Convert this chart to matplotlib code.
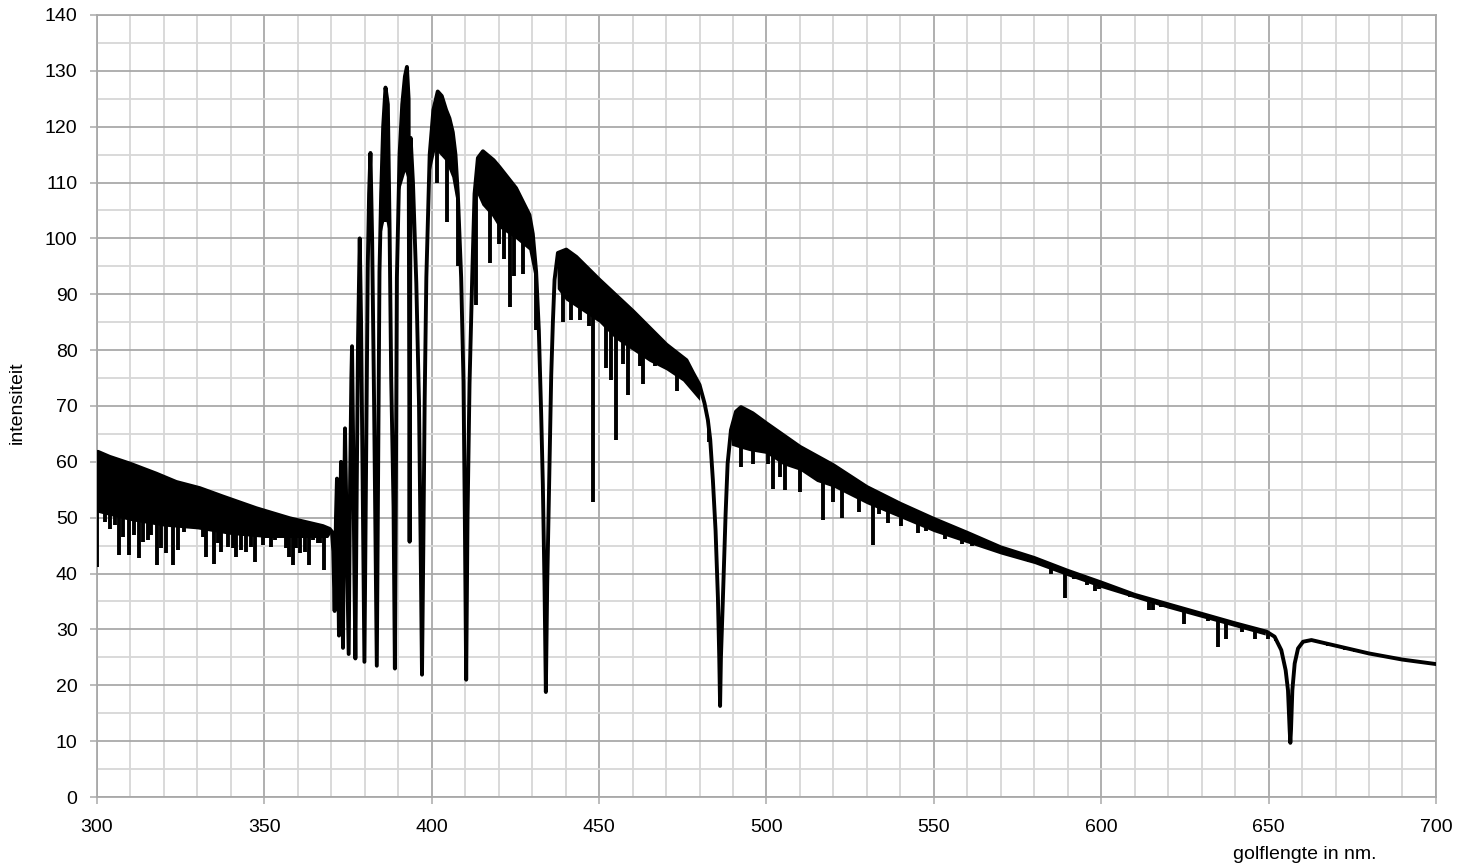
import matplotlib
matplotlib.use("Agg")
import matplotlib.pyplot as plt
from matplotlib.ticker import MultipleLocator

# upper envelope of the spectrum, including the broad Balmer lines
wavelength = [300.0, 300.3, 303.8, 309.8, 317.7, 323.7, 330.7, 337.6, 347.6, 357.6,
              367.5, 369.5, 370.2, 370.6, 371.0, 371.4, 371.7, 372.0, 372.3, 372.6,
              372.9, 373.1, 373.5, 373.8, 374.1, 374.4, 374.8, 375.2, 375.6, 376.0,
              376.2, 376.5, 376.9, 377.2, 377.6, 378.0, 378.5, 378.9, 379.4, 379.9,
              380.4, 380.9, 381.3, 381.7, 382.2, 382.8, 383.3, 383.6, 384.0, 384.4,
              384.9, 385.5, 386.2, 386.9, 387.4, 387.9, 388.6, 389.0, 389.3, 389.6,
              390.4, 391.2, 392.0, 392.6, 393.1, 393.4, 393.7, 394.4, 395.4, 396.2,
              396.7, 397.1, 397.5, 397.9, 398.4, 399.4, 400.5, 401.8, 403.0, 404.3,
              405.3, 406.3, 407.1, 407.8, 408.8, 409.5, 409.9, 410.3, 410.7, 411.3,
              412.1, 412.8, 413.8, 415.3, 416.5, 418.5, 420.2, 425.2, 429.2, 430.2,
              431.2, 432.0, 432.7, 433.2, 433.7, 434.1, 434.5, 435.2, 435.7, 436.2,
              436.7, 437.7, 440.2, 443.2, 450.1, 460.1, 470.1, 476.1, 478.0, 480.0,
              481.5, 482.5, 483.2, 484.0, 484.8, 485.5, 485.9, 486.15, 486.4, 487.0,
              487.8, 488.4, 489.4, 490.9, 492.4, 495.9, 500.0, 510.0, 520.0, 530.0,
              540.0, 550.0, 560.0, 570.0, 580.0, 590.0, 600.0, 610.0, 620.0, 630.0,
              640.0, 649.4, 651.8, 653.8, 655.1, 655.8, 656.3, 656.5, 656.7, 657.1,
              657.8, 658.8, 660.3, 662.8, 669.2, 680.0, 690.0, 700.0]
intensity = [61.0, 61.8, 60.9, 59.7, 57.9, 56.4, 55.3, 53.8, 51.7, 49.9,
             48.5, 48.0, 47.5, 44.0, 33.3, 50.0, 57.0, 45.0, 28.9, 45.0,
             60.0, 50.0, 26.7, 50.0, 66.0, 55.0, 40.0, 25.6, 55.0, 75.0,
             80.7, 65.0, 40.0, 24.8, 55.0, 82.0, 100.0, 85.0, 55.0, 24.2,
             60.0, 95.0, 108.0, 115.3, 100.0, 70.0, 40.0, 23.5, 60.0, 94.0,
             108.0, 120.0, 127.0, 124.0, 102.6, 75.0, 52.0, 23.0, 55.0, 93.0,
             115.0, 124.0, 129.0, 130.7, 125.0, 45.7, 118.0, 110.0, 92.0, 70.7,
             45.0, 21.9, 45.0, 71.0, 93.0, 115.0, 123.0, 126.3, 125.5, 123.0,
             121.5, 119.0, 115.0, 108.0, 93.0, 74.4, 50.0, 21.0, 50.0, 74.0,
             93.0, 108.0, 114.4, 115.6, 115.0, 114.0, 112.8, 109.0, 104.2, 100.8,
             94.0, 83.6, 68.6, 56.0, 38.0, 18.8, 38.0, 59.6, 75.4, 85.0,
             92.6, 97.4, 98.0, 96.7, 92.6, 87.0, 81.0, 78.2, 76.0, 73.8,
             70.5, 67.5, 64.0, 56.7, 47.7, 35.7, 25.0, 16.3, 25.0, 35.7,
             50.7, 59.7, 65.7, 69.0, 69.8, 68.7, 66.9, 62.7, 59.4, 55.5,
             52.5, 49.8, 47.3, 44.7, 42.8, 40.5, 38.4, 36.2, 34.5, 32.8,
             31.1, 29.6, 28.7, 26.3, 22.7, 19.1, 12.0, 9.7, 12.0, 19.1,
             23.9, 26.6, 27.8, 28.1, 27.2, 25.7, 24.6, 23.8]

# lower edge of the dense forest of weak metal lines (solid black band)
blend_wl = [300, 310, 320, 330, 340, 350, 360, 369, 370, 371,
            384, 384.5, 386, 387.5, 388.5, 389.5, 390, 392, 393, 394,
            395.5, 396.5, 398, 399.5, 401, 404, 406, 407.5, 408.5, 412,
            413.5, 415, 418, 420, 425, 429, 431, 432, 436.5, 437.5,
            440, 445, 450, 455, 460, 465, 470, 475, 480, 481,
            489, 489.5, 492, 495, 500, 505, 510, 515, 520, 525,
            530, 540, 550, 560, 570, 580, 590, 600, 620, 640,
            649, 650, 700]
blend_low = [51, 49.5, 48.5, 48, 47, 46.5, 46.5, 46.5, 47.5, 140,
             140, 100, 104, 100, 140, 140, 108, 112, 110, 108,
             95, 140, 140, 112, 116, 114, 111, 106, 140, 140,
             108, 106, 104, 102, 100, 98, 92, 140, 140, 91,
             89, 87, 85, 82, 80, 78, 76.5, 74.5, 71, 140,
             140, 63, 62.5, 62, 61.5, 59.5, 58.5, 56.5, 55.5, 54,
             52.5, 50, 47.5, 45.5, 43.5, 41.8, 39.6, 37.5, 33.8, 30.5,
             29, 140, 140]

# individual deeper absorption lines: position and minimum intensity
line_wl = [300.15, 302.3, 304.0, 305.3, 306.6, 307.8, 309.6, 311.0, 312.7, 313.7,
           315.2, 316.2, 318.0, 319.2, 320.7, 322.7, 324.2, 326.0, 328.2, 331.7,
           332.7, 334.9, 336.2, 337.2, 339.1, 340.6, 341.6, 343.1, 344.6, 346.1,
           347.3, 349.6, 350.6, 352.1, 353.1, 355.1, 356.6, 357.4, 358.6, 359.6,
           360.6, 362.1, 363.2, 364.5, 366.0, 366.5, 367.7,
           386.0, 394.7, 401.5, 404.6, 407.8, 413.3, 417.5, 420.0, 421.7, 423.5,
           424.7, 427.2, 431.2, 439.2, 441.7, 444.4, 447.0, 448.1, 452.1, 453.6,
           455.1, 457.1, 458.6, 462.1, 463.1, 466.6, 470.6, 473.4, 476.6, 478.1,
           482.9, 492.4, 495.9, 498.4, 500.4, 501.9, 504.1, 505.6, 510.0, 514.0,
           517.0, 519.8, 522.7, 527.7, 531.7, 533.7, 536.4, 540.3, 545.4, 547.8,
           550.8, 553.4, 558.5, 561.5, 566.3, 578.5, 585.1, 589.3, 591.8, 595.7,
           598.0, 599.2, 608.5, 614.4, 615.6, 617.9, 624.8, 631.8, 634.8, 637.3,
           642.0, 645.9, 649.9, 652.1, 667.9, 672.7, 675.7, 686.1, 688.6, 692.1]
line_depth = [41.2, 49.3, 48.0, 48.7, 43.3, 46.6, 43.3, 46.9, 42.7, 45.7,
              46.0, 46.9, 41.5, 44.5, 43.6, 41.5, 44.2, 47.5, 48.1, 46.6,
              43.0, 41.8, 45.4, 43.9, 44.8, 44.5, 43.0, 44.2, 43.9, 44.8,
              42.1, 45.1, 46.3, 44.8, 46.0, 48.1, 44.5, 43.0, 41.5, 44.5,
              43.6, 43.9, 41.5, 46.0, 45.4, 45.4, 40.6,
              103.0, 104.0, 110.0, 103.0, 95.0, 88.0, 95.6, 99.0, 96.3, 87.8,
              93.3, 93.6, 83.6, 85.0, 85.4, 85.4, 84.3, 52.9, 76.8, 74.7,
              64.0, 77.5, 72.0, 77.1, 74.0, 77.1, 76.4, 72.7, 75.4, 73.5,
              63.5, 59.1, 59.7, 63.3, 59.7, 55.2, 57.3, 54.9, 54.6, 57.6,
              49.6, 52.8, 50.0, 51.0, 45.2, 50.7, 49.0, 48.5, 47.2, 47.7,
              48.0, 46.2, 45.3, 44.9, 44.4, 42.0, 39.9, 35.6, 39.0, 38.0,
              36.8, 37.2, 35.8, 33.4, 33.4, 34.0, 31.0, 31.5, 26.9, 28.2,
              29.6, 28.2, 28.2, 28.0, 27.0, 26.3, 26.0, 25.1, 24.5, 24.3]

plt.rcParams['font.family'] = ['Liberation Sans', 'DejaVu Sans']

major_grey = '#a9a9a9'
minor_grey = '#d7d7d7'

fig = plt.figure(figsize=(14.69, 8.65), dpi=100)
ax = fig.add_axes([0.0660, 0.0786, 0.9115, 0.9041])

# invisible area under the envelope, used to clip the line forest
under = ax.fill_between(wavelength, 0, intensity, color='none', lw=0)
clip = under.get_paths()[0]

band = ax.fill_between(blend_wl, blend_low, 140, color='black', lw=0, zorder=3)
band.set_clip_path(clip, ax.transData)

lines = ax.vlines(line_wl, line_depth, 140, color='black', lw=2.8, zorder=3)
lines.set_clip_path(clip, ax.transData)

ax.plot(wavelength, intensity, color='black', lw=2.8, zorder=4)

ax.set_xlim(300, 700)
ax.set_ylim(0, 140)
ax.xaxis.set_major_locator(MultipleLocator(50))
ax.xaxis.set_minor_locator(MultipleLocator(10))
ax.yaxis.set_major_locator(MultipleLocator(10))
ax.yaxis.set_minor_locator(MultipleLocator(5))

ax.set_axisbelow(True)
ax.grid(which='minor', color=minor_grey, lw=1.3)
ax.grid(which='major', color=major_grey, lw=1.3)
for s in ax.spines.values():
    s.set_color(major_grey)
    s.set_linewidth(1.3)

ax.tick_params(which='major', direction='out', length=5, width=1.1,
               color=major_grey, labelsize=14, labelcolor='black')
ax.tick_params(axis='x', which='major', pad=11)
ax.tick_params(axis='y', which='major', pad=9)
ax.tick_params(which='minor', length=0)

fig.text(0.888, 0.022, 'golflengte in nm.', ha='center', va='top', fontsize=14)
fig.text(0.0116, 0.5345, 'intensiteit', rotation=90, ha='center', va='center', fontsize=14)

fig.savefig('out.png', dpi=100)
